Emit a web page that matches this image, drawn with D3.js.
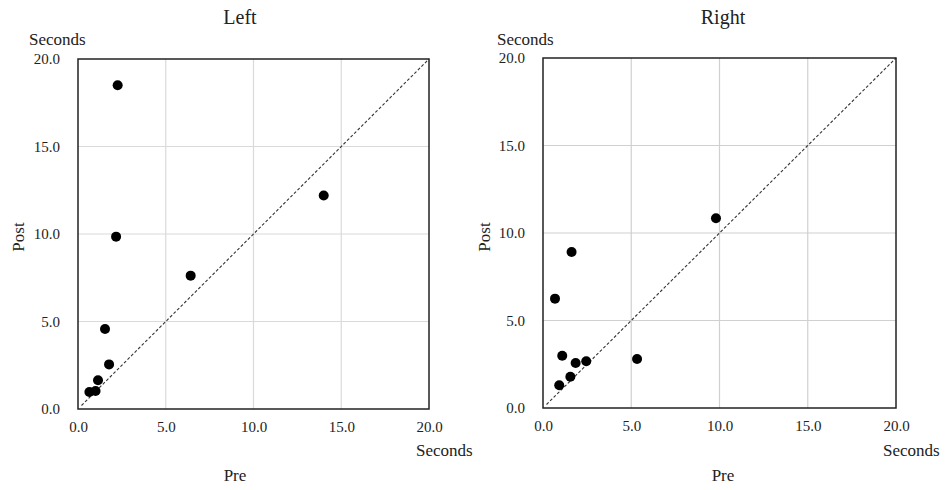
<!DOCTYPE html>
<html>
<head>
<meta charset="utf-8">
<script src="https://cdn.jsdelivr.net/npm/d3@7"></script>
<style>
  body { margin: 0; background: #fff; }
  svg text { font-family: "Liberation Serif", "Times New Roman", serif; fill: #222; }
</style>
</head>
<body>
<svg id="chart"></svg>
<script>
// Pre / Post times in seconds
const leftPre  = [2.26, 2.17, 14.0, 6.42, 1.54, 1.77, 1.14, 0.65, 1.0];
const leftPost = [18.5, 9.85, 12.2, 7.62, 4.57, 2.55, 1.64, 0.97, 1.03];

const rightPre  = [9.8, 1.62, 0.68, 1.09, 1.85, 2.45, 5.33, 1.55, 0.92];
const rightPost = [10.84, 8.91, 6.25, 2.99, 2.57, 2.67, 2.8, 1.79, 1.30];

const panelTitles = ["Left", "Right"];
const tickValues = [0, 5, 10, 15, 20];

const width = 949;
const height = 490;

const svg = d3.select("#chart")
    .attr("width", width)
    .attr("height", height);

//Where each plot box sits, and where its labels go
const panels = [
    { title: panelTitles[0], pre: leftPre, post: leftPost, x0: 78, x1: 429, y0: 59, y1: 409,
      grid: "#dadada", titleX: 240, preX: 235, secX: 29, postX: 24 },
    { title: panelTitles[1], pre: rightPre, post: rightPost, x0: 543, x1: 896, y0: 58, y1: 408,
      grid: "#d0d0d0", titleX: 723, preX: 723, secX: 497, postX: 490 }
];

const drawPanel = (p) => {
    const xScale = d3.scaleLinear().domain([0, 20]).range([p.x0, p.x1]);
    const yScale = d3.scaleLinear().domain([0, 20]).range([p.y1, p.y0]);

    const g = svg.append("g");

    //Gridlines
    g.selectAll(".vgrid")
        .data(tickValues.slice(1, -1))
        .enter()
        .append("line")
        .attr("x1", (d) => xScale(d))
        .attr("x2", (d) => xScale(d))
        .attr("y1", p.y0)
        .attr("y2", p.y1)
        .attr("stroke", p.grid)
        .attr("stroke-width", 1.2);

    g.selectAll(".hgrid")
        .data(tickValues.slice(1, -1))
        .enter()
        .append("line")
        .attr("y1", (d) => yScale(d))
        .attr("y2", (d) => yScale(d))
        .attr("x1", p.x0)
        .attr("x2", p.x1)
        .attr("stroke", p.grid)
        .attr("stroke-width", 1.2);

    //y = x reference line
    g.append("line")
        .attr("x1", xScale(0.2))
        .attr("y1", yScale(0.2))
        .attr("x2", xScale(20))
        .attr("y2", yScale(20))
        .attr("stroke", "#333")
        .attr("stroke-width", 1.1)
        .attr("stroke-dasharray", "3,2");

    //Axes, only for their labels
    const xAxis = d3.axisBottom(xScale)
        .tickValues(tickValues)
        .tickFormat(d3.format(".1f"))
        .tickSize(0)
        .tickPadding(12);

    const yAxis = d3.axisLeft(yScale)
        .tickValues(tickValues)
        .tickFormat(d3.format(".1f"))
        .tickSize(0)
        .tickPadding(18);

    const xg = g.append("g")
        .attr("transform", "translate(0, " + p.y1 + ")")
        .call(xAxis);
    const yg = g.append("g")
        .attr("transform", "translate(" + p.x0 + ", 0)")
        .call(yAxis);

    [xg, yg].forEach((a) => {
        a.attr("font-family", "Liberation Serif")
            .attr("font-size", 15);
        a.select(".domain").remove();
        a.selectAll("text").attr("fill", "#222");
    });

    //Plot frame
    g.append("rect")
        .attr("x", p.x0)
        .attr("y", p.y0)
        .attr("width", p.x1 - p.x0)
        .attr("height", p.y1 - p.y0)
        .attr("fill", "none")
        .attr("stroke", "#222")
        .attr("stroke-width", 1.5);

    //Points
    g.selectAll("circle")
        .data(p.pre.map((d, i) => [d, p.post[i]]))
        .enter()
        .append("circle")
        .attr("cx", (d) => xScale(d[0]))
        .attr("cy", (d) => yScale(d[1]))
        .attr("r", 5)
        .attr("fill", "#000");

    //Titles and units
    g.append("text")
        .attr("x", p.titleX)
        .attr("y", 24)
        .attr("text-anchor", "middle")
        .style("font-size", "20px")
        .text(p.title);

    g.append("text")
        .attr("x", p.secX)
        .attr("y", 45)
        .style("font-size", "17px")
        .text("Seconds");

    g.append("text")
        .attr("x", p.x1 - 13)
        .attr("y", 456)
        .style("font-size", "17px")
        .text("Seconds");

    g.append("text")
        .attr("x", p.preX)
        .attr("y", 481)
        .attr("text-anchor", "middle")
        .style("font-size", "17px")
        .text("Pre");

    g.append("text")
        .attr("transform", "translate(" + p.postX + ", " + 237 + ") rotate(-90)")
        .attr("text-anchor", "middle")
        .style("font-size", "17px")
        .text("Post");
};

panels.forEach(drawPanel);
</script>
</body>
</html>
